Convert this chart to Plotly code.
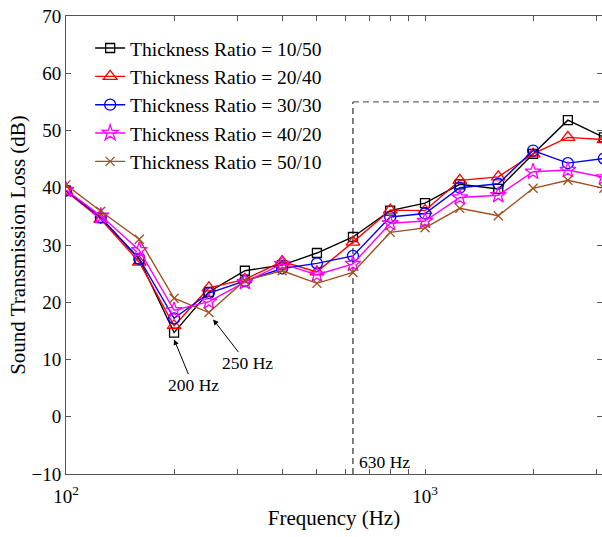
import math
import plotly.graph_objects as go

freqs = [100, 125, 160, 200, 250, 315, 400, 500, 630, 800, 1000, 1250, 1600, 2000, 2500, 3150]
ratio_10_50 = [39.5, 34.7, 27.5, 14.7, 21.8, 25.5, 26.5, 28.6, 31.4, 36.0, 37.3, 40.6, 39.8, 45.9, 51.8, 48.8]
ratio_20_40 = [39.4, 34.5, 27.0, 15.9, 22.5, 24.0, 27.1, 25.3, 30.5, 36.1, 36.0, 41.3, 41.9, 45.9, 48.8, 48.4]
ratio_30_30 = [39.5, 34.8, 27.6, 17.2, 21.6, 23.7, 25.9, 26.8, 28.1, 34.9, 35.5, 40.0, 40.7, 46.5, 44.3, 45.1]
ratio_40_20 = [39.6, 35.1, 29.1, 18.6, 20.1, 23.5, 26.7, 24.8, 26.7, 33.8, 34.2, 38.3, 38.7, 42.8, 43.1, 41.8]
ratio_50_10 = [40.5, 35.9, 31.0, 20.7, 18.2, 23.8, 25.5, 23.3, 25.2, 32.2, 33.0, 36.4, 35.1, 39.9, 41.3, 39.9]

series_names = ["Thickness Ratio = 10/50", "Thickness Ratio = 20/40", "Thickness Ratio = 30/30",
                "Thickness Ratio = 40/20", "Thickness Ratio = 50/10"]
series_values = [ratio_10_50, ratio_20_40, ratio_30_30, ratio_40_20, ratio_50_10]
colors = ["#000000", "#FF0000", "#0000FF", "#FF00FF", "#A0501E"]
symbols = ["square-open", "triangle-up-open", "circle-open", "star-open", "x-thin-open"]
msizes = [9, 12, 11, 12, 9]

box_freq = 630
box_top = 55
y_min, y_max = -10, 70
x_major_vals = [100, 1000]
x_major_text = ["10<sup>2</sup>", "10<sup>3</sup>"]
x_minor_vals = [200, 300, 400, 500, 600, 700, 800, 900, 2000, 3000]

FONT = "Liberation Serif"

fig = go.Figure()

# dashed marker lines
fig.add_trace(go.Scatter(x=[box_freq, box_freq], y=[y_min, box_top], mode="lines",
                         line=dict(color="#000000", width=1, dash="6px,4px"),
                         showlegend=False, hoverinfo="skip"))
fig.add_trace(go.Scatter(x=[box_freq, 4000], y=[box_top, box_top], mode="lines",
                         line=dict(color="#666666", width=1.2, dash="6px,4px"),
                         showlegend=False, hoverinfo="skip"))

for name, vals, c, s, ms in zip(series_names, series_values, colors, symbols, msizes):
    fig.add_trace(go.Scatter(
        x=freqs, y=vals, name=name, mode="lines+markers",
        line=dict(color=c, width=1.4),
        marker=dict(symbol=s, size=ms, color=c, line=dict(color=c, width=1.3)),
    ))

axis_color = "#555555"
x_lo = 2
x_hi = 2 + 536 / 359

fig.update_layout(
    width=602, height=537,
    margin=dict(l=66, r=0, t=16, b=63),
    paper_bgcolor="white", plot_bgcolor="white",
    font=dict(family=FONT, size=19, color="#000000"),
    showlegend=True,
    legend=dict(x=0.045, y=0.972, xanchor="left", yanchor="top",
                bgcolor="rgba(0,0,0,0)", borderwidth=0,
                font=dict(family=FONT, size=19.5, color="#000000"),
                itemwidth=30),
    xaxis=dict(type="log", range=[x_lo, x_hi],
               tickmode="array", tickvals=x_major_vals, ticktext=x_major_text,
               ticks="inside", ticklen=5, tickcolor=axis_color,
               minor=dict(tickmode="array", tickvals=x_minor_vals, ticks="inside",
                          ticklen=5, tickcolor=axis_color, showgrid=False),
               showline=True, linecolor=axis_color, linewidth=1, mirror="ticks",
               showgrid=False, zeroline=False, ticklabelstandoff=5,
               tickfont=dict(family=FONT, size=19),
               title=dict(text="Frequency (Hz)", font=dict(family=FONT, size=21), standoff=4)),
    yaxis=dict(range=[y_min, y_max], dtick=10, tick0=0,
               ticks="inside", ticklen=5, tickcolor=axis_color,
               showline=True, linecolor=axis_color, linewidth=1, mirror="ticks",
               showgrid=False, zeroline=False,
               tickfont=dict(family=FONT, size=19),
               title=dict(text="Sound Transmission Loss (dB)", font=dict(family=FONT, size=21), standoff=0)),
)

ann_font = dict(family=FONT, size=17.5, color="#000000")
fig.add_annotation(x=math.log10(200), y=13.5, xref="x", yref="y", text="200 Hz",
                   showarrow=True, arrowhead=2, arrowsize=1.1, arrowwidth=1, arrowcolor="#000000",
                   ax=19, ay=46, font=ann_font)
fig.add_annotation(x=math.log10(257), y=17.0, xref="x", yref="y", text="250 Hz",
                   showarrow=True, arrowhead=2, arrowsize=1.1, arrowwidth=1, arrowcolor="#000000",
                   ax=34, ay=44, font=ann_font)
fig.add_annotation(x=math.log10(771), y=-7.9, xref="x", yref="y", text="630 Hz",
                   showarrow=False, font=ann_font)

fig.write_html("out.html")
